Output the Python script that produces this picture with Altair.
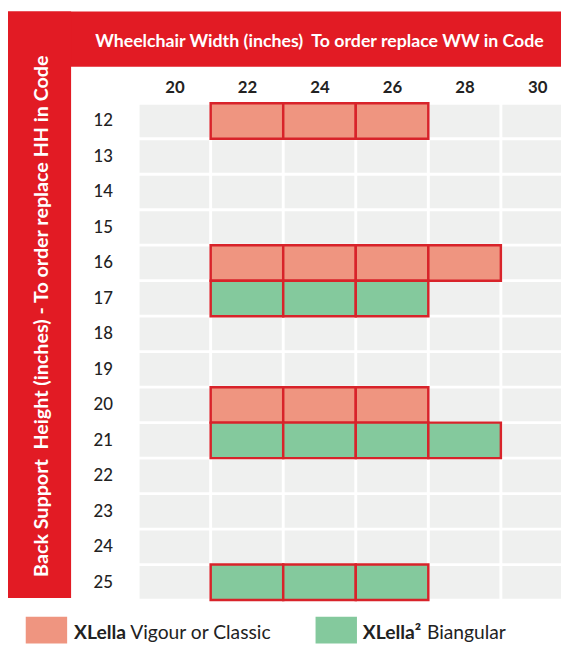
import json
import altair as alt
import pandas as pd

# ---- data ----
widths = [20, 22, 24, 26, 28, 30]
heights = [12, 13, 14, 15, 16, 17, 18, 19, 20, 21, 22, 23, 24, 25]
width_labels = [str(w) for w in widths]
height_labels = [str(h) for h in heights]

series = ["XLella Vigour or Classic", "XLella\u00b2 Biangular"]
series_colors = ["#EF9580", "#84C99D"]

vigour_cells = [(12, 22), (12, 24), (12, 26),
                (16, 22), (16, 24), (16, 26), (16, 28),
                (20, 22), (20, 24), (20, 26)]
biangular_cells = [(17, 22), (17, 24), (17, 26),
                   (21, 22), (21, 24), (21, 26), (21, 28),
                   (25, 22), (25, 24), (25, 26)]

x_title = "Wheelchair Width (inches)\u00a0 To order replace WW in Code"
y_title = "Back Support\u00a0 Height (inches) - To order replace HH in Code"

# ---- tables ----
grid = pd.DataFrame([{"xi": widths.index(w), "yi": heights.index(h)}
                     for h in heights for w in widths])
cells = pd.DataFrame(
    [{"xi": widths.index(w), "yi": heights.index(h), "series": series[0]} for h, w in vigour_cells]
    + [{"xi": widths.index(w), "yi": heights.index(h), "series": series[1]} for h, w in biangular_cells]
)
one = pd.DataFrame({"k": [0]})

RED = "#E21B24"
FONT = "Lato"
PITCH_X = 73.6
PAD_L = 132
W = 561 - PAD_L
H = 504
dx = PAD_L - 130  # shift for decorations relative to plot origin

xscale = alt.Scale(domain=[0, W / PITCH_X], nice=False, zero=False)
yscale = alt.Scale(domain=[0, len(heights)], nice=False, zero=False, reverse=True)

xaxis = alt.Axis(orient="top", values=[i + 0.5 for i in range(len(widths))],
                 labelExpr=f"{json.dumps(width_labels)}[floor(datum.value)]",
                 ticks=False, tickSize=0, domain=False, grid=False, title=None,
                 labelFont=FONT, labelFontSize=17, labelFontWeight="bold",
                 labelColor="#222222", labelBaseline="alphabetic", labelPadding=10.5,
                 labelAlign="center")
yaxis = alt.Axis(orient="left", values=[i + 0.5 for i in range(len(heights))],
                 labelExpr=f"{json.dumps(height_labels)}[floor(datum.value)]",
                 ticks=False, tickSize=0, domain=False, grid=False, title=None,
                 labelFont=FONT, labelFontSize=17, labelFontWeight=500,
                 labelColor="#222222", labelBaseline="middle", labelAlign="right",
                 labelPadding=26)

color = alt.Color("series:N", scale=alt.Scale(domain=series, range=series_colors), legend=None)

gray = alt.Chart(grid).transform_calculate(
    x0="datum.xi + 0.02", x1="datum.xi + 0.98",
    y0="datum.yi + 0.04", y1="datum.yi + 0.96",
).mark_rect(color="#EFF0EF").encode(
    x=alt.X("x0:Q", scale=xscale, axis=xaxis),
    x2="x1:Q",
    y=alt.Y("y0:Q", scale=yscale, axis=yaxis),
    y2="y1:Q",
)

colored = alt.Chart(cells).transform_calculate(
    x0="datum.xi", x1="datum.xi + 1",
    y0="datum.yi", y1="datum.yi + 1",
).mark_rect(stroke="#D8232A", strokeWidth=2.5).encode(
    x=alt.X("x0:Q", scale=xscale, axis=xaxis),
    x2="x1:Q",
    y=alt.Y("y0:Q", scale=yscale, axis=yaxis),
    y2="y1:Q",
    color=color,
)

header = alt.Chart(one).mark_rect(color=RED).encode(
    x=alt.value(-131 - dx), x2=alt.value(W), y=alt.value(-93), y2=alt.value(-37))
leftband = alt.Chart(one).mark_rect(color=RED).encode(
    x=alt.value(-131 - dx), x2=alt.value(-66 - dx), y=alt.value(-93), y2=alt.value(502))

title_x = alt.Chart(one).mark_text(
    font=FONT, fontSize=18.0, fontWeight="bold", color="white",
    align="center", baseline="alphabetic").encode(
    x=alt.value(186 - dx), y=alt.value(-57), text=alt.value(x_title))
title_y = alt.Chart(one).mark_text(
    font=FONT, fontSize=20.0, fontWeight="bold", color="white", angle=270,
    align="center", baseline="middle").encode(
    x=alt.value(-95 - dx), y=alt.value(216), text=alt.value(y_title))

sw1 = alt.Chart(pd.DataFrame({"series": [series[0]]})).mark_rect().encode(
    x=alt.value(-112 - dx), x2=alt.value(-70 - dx), y=alt.value(521), y2=alt.value(548), color=color)
sw2 = alt.Chart(pd.DataFrame({"series": [series[1]]})).mark_rect().encode(
    x=alt.value(182 - dx), x2=alt.value(224 - dx), y=alt.value(521), y2=alt.value(548), color=color)

def ltext(txt, xpos, bold):
    return alt.Chart(one).mark_text(
        font=FONT, fontSize=19.5, fontWeight="bold" if bold else "normal",
        color="#222222", align="left", baseline="alphabetic").encode(
        x=alt.value(xpos - dx), y=alt.value(543), text=alt.value(txt))

t1a = ltext(series[0].split(" ", 1)[0], -63, True)
t1b = ltext(series[0].split(" ", 1)[1], -6, False)
t2a = ltext(series[1].split(" ", 1)[0], 230, True)
t2b = ltext(series[1].split(" ", 1)[1], 295, False)

chart = alt.layer(
    gray, colored, header, leftband, title_x, title_y, sw1, sw2, t1a, t1b, t2a, t2b
).properties(
    width=W, height=H,
    autosize=alt.AutoSizeParams(type="none"),
    padding={"left": PAD_L, "top": 92, "right": 0, "bottom": 44},
    background="white",
).configure_view(stroke=None)

chart.save("out.html", embed_options={"renderer": "svg", "actions": False})
